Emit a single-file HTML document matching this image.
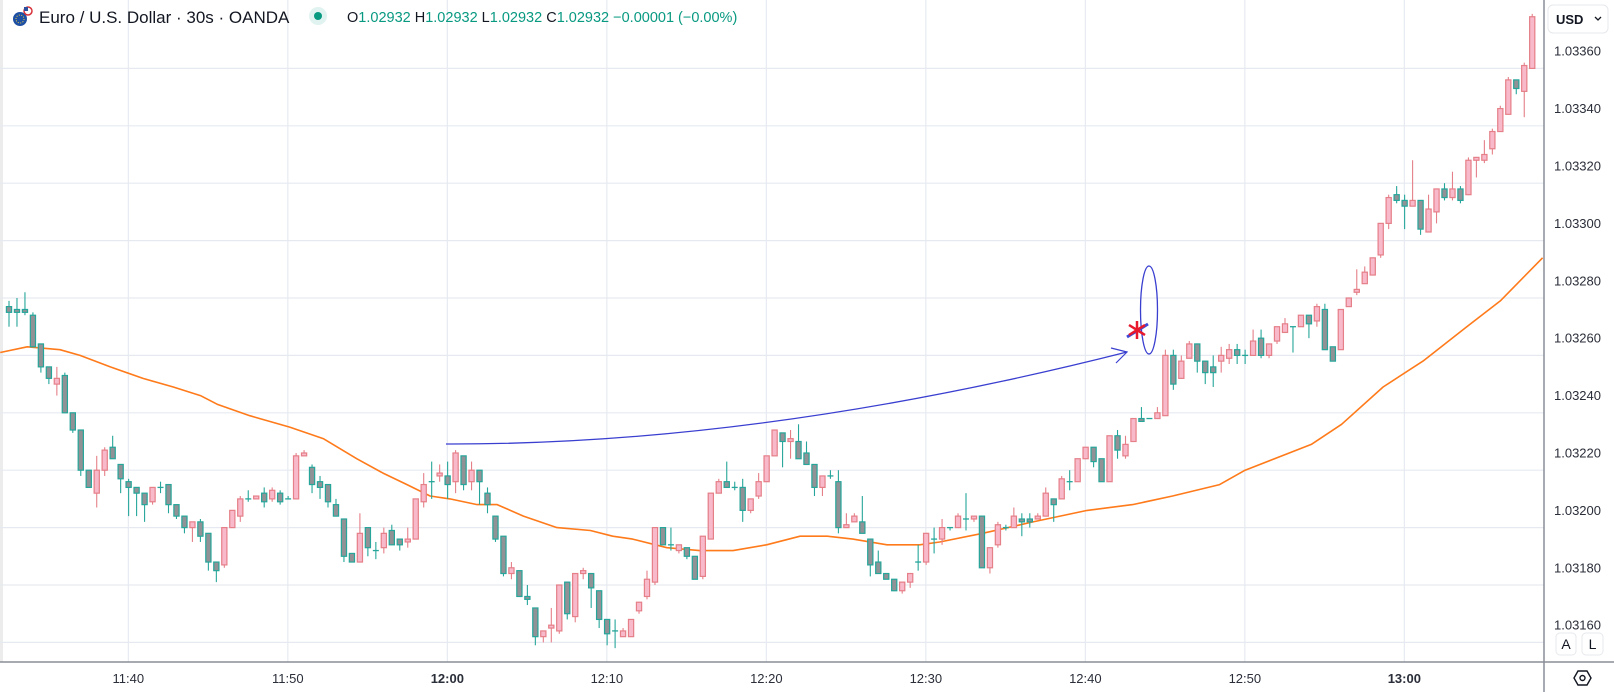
<!DOCTYPE html>
<html><head><meta charset="utf-8">
<style>
html,body{margin:0;padding:0;background:#fff;}
body{width:1614px;height:692px;position:relative;overflow:hidden;font-family:"Liberation Sans",sans-serif;color:#131722;}
svg{position:absolute;left:0;top:0;}
</style></head>
<body>
<svg id="chart" width="1614" height="692" viewBox="0 0 1614 692">
  <rect x="0" y="0" width="3" height="662" fill="#ececec"/>
  <g id="grid"></g>
  <g id="ema"></g>
  <g id="candles"></g>
  <g>
    <path d="M446 444 Q 760 445 1127 352" fill="none" stroke="#3a3fd0" stroke-width="1.3"/>
    <path d="M1111 348 L1127 352 L1116 363" fill="none" stroke="#3a3fd0" stroke-width="1.2"/>
    <ellipse cx="1149" cy="310" rx="8.5" ry="44" fill="none" stroke="#3a3fd0" stroke-width="1.3"/>
    <line x1="1127" y1="337" x2="1148" y2="324" stroke="#3f4bd6" stroke-width="3"/>
    <g stroke="#e8192c" stroke-width="2.5">
      <line x1="1137" y1="321" x2="1137" y2="339"/>
      <line x1="1129" y1="325" x2="1145" y2="335"/>
      <line x1="1129" y1="335" x2="1145" y2="325"/>
    </g>
  </g>
  <line x1="0" y1="662" x2="1614" y2="662" stroke="#8a8d95" stroke-width="1.5"/>
  <line x1="1544" y1="0" x2="1544" y2="692" stroke="#8a8d95" stroke-width="1.5"/>
  <g id="yaxis"></g>
  <g id="xaxis"></g>
  <g>
    <rect x="1548" y="5" width="60" height="28" rx="5" fill="#fff" stroke="#e6e8ec"/>
    <text x="1556" y="24" font-size="13" font-weight="bold" fill="#131722">USD</text>
    <path d="M1595 17 L1598 20 L1601 17" fill="none" stroke="#131722" stroke-width="1.3"/>
  </g>
  <g>
    <rect x="1556" y="633" width="20" height="22" rx="4" fill="#fff" stroke="#e6e8ec"/>
    <text x="1566" y="649" font-size="14" text-anchor="middle" fill="#131722">A</text>
  </g>
  <g>
    <rect x="1582" y="633" width="21" height="22" rx="4" fill="#fff" stroke="#e6e8ec"/>
    <text x="1592.5" y="649" font-size="14" text-anchor="middle" fill="#131722">L</text>
  </g>
  <g fill="none" stroke="#131722" stroke-width="1.4">
    <path d="M1574 678 L1578 671 L1587 671 L1591 678 L1587 685 L1578 685 Z"/>
    <circle cx="1582.5" cy="678" r="2.5"/>
  </g>
  <g>
    <g>
      <circle cx="20" cy="19" r="7" fill="#1d4fa3"/>
      <circle cx="20" cy="19" r="4" fill="none" stroke="#f4d03f" stroke-width="1" stroke-dasharray="1 1.5"/>
      <circle cx="28" cy="11" r="4" fill="#fff" stroke="#d8323a" stroke-width="1.5"/>
      <rect x="24" y="7" width="4" height="4" fill="#2c4f9e"/>
    </g>
    <text x="39" y="23" font-size="17" fill="#131722">Euro / U.S. Dollar · 30s · OANDA</text>
    <circle cx="318" cy="16" r="9" fill="#e1f3f0"/>
    <circle cx="318" cy="16" r="4" fill="#089981"/>
    <text x="347" y="22" font-size="14.5"><tspan fill="#131722">O</tspan><tspan fill="#089981">1.02932 </tspan><tspan fill="#131722">H</tspan><tspan fill="#089981">1.02932 </tspan><tspan fill="#131722">L</tspan><tspan fill="#089981">1.02932 </tspan><tspan fill="#131722">C</tspan><tspan fill="#089981">1.02932 −0.00001 (−0.00%)</tspan></text>
  </g>
</svg>
<script>
const open = [1.03277,1.03276,1.03276,1.03274,1.03264,1.03256,1.03250,1.03253,1.03240,1.03234,
1.03220,1.03212,1.03220,1.03228,1.03222,1.03216,1.03214,1.03212,1.03209,1.03214,
1.03215,1.03208,1.03204,1.03200,1.03202,1.03198,1.03188,1.03187,1.03200,1.03204,
1.03210,1.03210,1.03212,1.03210,1.03212,1.03210,1.03210,1.03225,1.03221,1.03216,
1.03215,1.03208,1.03203,1.03191,1.03188,1.03200,1.03192,1.03193,1.03199,1.03196,
1.03195,1.03196,1.03209,1.03216,1.03218,1.03218,1.03216,1.03225,1.03216,1.03220,
1.03212,1.03204,1.03197,1.03184,1.03185,1.03176,1.03172,1.03162,1.03165,1.03164,
1.03181,1.03169,1.03184,1.03184,1.03178,1.03168,1.03164,1.03162,1.03162,1.03171,
1.03176,1.03181,1.03200,1.03194,1.03192,1.03193,1.03190,1.03183,1.03196,1.03212,
1.03216,1.03214,1.03214,1.03206,1.03211,1.03216,1.03225,1.03233,1.03230,1.03230,
1.03226,1.03222,1.03214,1.03218,1.03216,1.03200,1.03202,1.03202,1.03196,1.03188,
1.03184,1.03182,1.03178,1.03181,1.03188,1.03188,1.03196,1.03196,1.03200,1.03200,
1.03203,1.03203,1.03204,1.03186,1.03194,1.03200,1.03200,1.03203,1.03203,1.03203,
1.03204,1.03210,1.03210,1.03216,1.03216,1.03224,1.03228,1.03224,1.03216,1.03232,
1.03225,1.03230,1.03238,1.03238,1.03238,1.03239,1.03260,1.03252,1.03259,1.03264,
1.03258,1.03256,1.03258,1.03259,1.03262,1.03260,1.03260,1.03266,1.03260,1.03265,
1.03268,1.03270,1.03270,1.03274,1.03272,1.03276,1.03263,1.03262,1.03277,1.03282,
1.03285,1.03288,1.03295,1.03306,1.03316,1.03314,1.03312,1.03314,1.03303,1.03310,
1.03318,1.03315,1.03318,1.03316,1.03328,1.03328,1.03332,1.03338,1.03344,1.03356,
1.03352,1.03360];
const close = [1.03275,1.03275,1.03275,1.03263,1.03256,1.03252,1.03252,1.03240,1.03234,1.03220,
1.03214,1.03220,1.03227,1.03224,1.03217,1.03214,1.03212,1.03208,1.03214,1.03214,
1.03208,1.03204,1.03200,1.03202,1.03197,1.03188,1.03185,1.03200,1.03206,1.03210,
1.03210,1.03211,1.03209,1.03213,1.03209,1.03210,1.03225,1.03226,1.03215,1.03214,
1.03209,1.03204,1.03190,1.03188,1.03198,1.03193,1.03192,1.03198,1.03194,1.03194,
1.03196,1.03210,1.03215,1.03216,1.03219,1.03215,1.03226,1.03215,1.03220,1.03216,
1.03208,1.03196,1.03184,1.03186,1.03176,1.03175,1.03162,1.03164,1.03166,1.03180,
1.03170,1.03184,1.03185,1.03179,1.03168,1.03163,1.03164,1.03164,1.03168,1.03174,
1.03182,1.03200,1.03194,1.03194,1.03194,1.03190,1.03182,1.03197,1.03212,1.03216,
1.03214,1.03214,1.03206,1.03210,1.03216,1.03225,1.03234,1.03230,1.03231,1.03224,
1.03222,1.03214,1.03218,1.03218,1.03200,1.03201,1.03204,1.03198,1.03187,1.03184,
1.03182,1.03178,1.03181,1.03184,1.03188,1.03198,1.03196,1.03200,1.03200,1.03204,
1.03203,1.03204,1.03186,1.03193,1.03201,1.03200,1.03204,1.03202,1.03202,1.03204,
1.03212,1.03208,1.03217,1.03216,1.03224,1.03228,1.03223,1.03216,1.03232,1.03227,
1.03229,1.03238,1.03237,1.03238,1.03240,1.03260,1.03250,1.03258,1.03264,1.03258,
1.03254,1.03254,1.03260,1.03262,1.03260,1.03260,1.03265,1.03260,1.03264,1.03270,
1.03271,1.03270,1.03274,1.03271,1.03277,1.03262,1.03258,1.03276,1.03280,1.03283,
1.03289,1.03294,1.03306,1.03315,1.03314,1.03312,1.03314,1.03304,1.03311,1.03318,
1.03315,1.03318,1.03314,1.03328,1.03329,1.03330,1.03338,1.03346,1.03356,1.03353,
1.03361,1.03378];
const high = [1.03279,1.03280,1.03282,1.03275,1.03264,1.03256,1.03256,1.03254,1.03240,1.03234,
1.03220,1.03225,1.03228,1.03232,1.03222,1.03217,1.03214,1.03212,1.03214,1.03216,
1.03215,1.03208,1.03204,1.03202,1.03203,1.03198,1.03188,1.03200,1.03206,1.03211,
1.03213,1.03211,1.03214,1.03214,1.03213,1.03211,1.03226,1.03227,1.03222,1.03218,
1.03215,1.03210,1.03203,1.03191,1.03205,1.03200,1.03195,1.03200,1.03201,1.03196,
1.03200,1.03210,1.03219,1.03223,1.03222,1.03223,1.03227,1.03225,1.03223,1.03220,
1.03214,1.03204,1.03197,1.03188,1.03185,1.03180,1.03172,1.03164,1.03172,1.03180,
1.03181,1.03184,1.03186,1.03184,1.03178,1.03168,1.03168,1.03165,1.03168,1.03174,
1.03185,1.03200,1.03200,1.03200,1.03194,1.03193,1.03190,1.03197,1.03212,1.03217,
1.03223,1.03216,1.03217,1.03210,1.03219,1.03225,1.03234,1.03233,1.03234,1.03236,
1.03230,1.03222,1.03218,1.03220,1.03220,1.03205,1.03205,1.03211,1.03196,1.03192,
1.03184,1.03182,1.03181,1.03184,1.03194,1.03198,1.03200,1.03203,1.03200,1.03205,
1.03212,1.03204,1.03204,1.03193,1.03202,1.03201,1.03207,1.03205,1.03205,1.03205,
1.03214,1.03210,1.03218,1.03220,1.03224,1.03228,1.03228,1.03224,1.03232,1.03234,
1.03232,1.03238,1.03242,1.03238,1.03242,1.03262,1.03262,1.03260,1.03265,1.03264,
1.03258,1.03260,1.03263,1.03264,1.03264,1.03262,1.03269,1.03269,1.03264,1.03270,
1.03273,1.03270,1.03274,1.03274,1.03278,1.03278,1.03263,1.03276,1.03280,1.03290,
1.03291,1.03294,1.03306,1.03316,1.03319,1.03316,1.03328,1.03314,1.03316,1.03318,
1.03320,1.03324,1.03319,1.03329,1.03329,1.03335,1.03339,1.03347,1.03357,1.03356,
1.03362,1.03379];
const low = [1.03270,1.03270,1.03274,1.03263,1.03254,1.03250,1.03246,1.03240,1.03233,1.03218,
1.03214,1.03207,1.03218,1.03224,1.03212,1.03204,1.03204,1.03202,1.03208,1.03212,
1.03205,1.03203,1.03198,1.03195,1.03195,1.03185,1.03181,1.03186,1.03200,1.03202,
1.03209,1.03210,1.03207,1.03209,1.03208,1.03210,1.03210,1.03225,1.03212,1.03210,
1.03207,1.03204,1.03188,1.03188,1.03188,1.03190,1.03189,1.03191,1.03194,1.03192,
1.03193,1.03196,1.03207,1.03210,1.03216,1.03210,1.03212,1.03213,1.03213,1.03208,
1.03205,1.03195,1.03183,1.03182,1.03176,1.03173,1.03159,1.03160,1.03160,1.03163,
1.03168,1.03167,1.03182,1.03172,1.03165,1.03159,1.03158,1.03162,1.03162,1.03170,
1.03175,1.03180,1.03194,1.03192,1.03191,1.03189,1.03182,1.03182,1.03196,1.03212,
1.03214,1.03213,1.03202,1.03205,1.03210,1.03216,1.03225,1.03221,1.03224,1.03224,
1.03222,1.03211,1.03211,1.03217,1.03198,1.03200,1.03202,1.03198,1.03183,1.03184,
1.03182,1.03178,1.03177,1.03179,1.03185,1.03187,1.03191,1.03194,1.03199,1.03200,
1.03199,1.03202,1.03186,1.03184,1.03193,1.03199,1.03200,1.03197,1.03200,1.03203,
1.03204,1.03202,1.03210,1.03213,1.03216,1.03224,1.03221,1.03216,1.03216,1.03224,
1.03224,1.03230,1.03237,1.03238,1.03238,1.03239,1.03248,1.03252,1.03259,1.03254,
1.03250,1.03249,1.03254,1.03257,1.03257,1.03257,1.03260,1.03259,1.03259,1.03264,
1.03268,1.03261,1.03270,1.03266,1.03270,1.03262,1.03258,1.03262,1.03277,1.03281,
1.03285,1.03288,1.03294,1.03304,1.03313,1.03304,1.03312,1.03302,1.03303,1.03306,
1.03314,1.03314,1.03313,1.03316,1.03322,1.03327,1.03330,1.03338,1.03344,1.03351,
1.03343,1.03360];
const emaIndex = [-1.1,2.3,6.4,8.9,12.7,16.8,20.6,24,26.1,30.2,35.2,39.4,43.6,46.9,49.9,52.8,55.3,58.7,61.2,64.5,68.7,72.9,75.7,78.2,82.5,86.6,90.8,95,99.2,102.6,105.8,110.1,114.2,116.7,122.1,128.4,135.2,140.9,145.9,151.8,155,163.3,167.1,172.3,177.3,182.8,187,192.3];
const emaValue = [1.03261,1.03263,1.03262,1.03260,1.03256,1.03252,1.03249,1.03246,1.03243,1.03239,1.03235,1.03231,1.03224,1.03219,1.03215,1.03211,1.03210,1.03208,1.03208,1.03204,1.03200,1.03199,1.03197,1.03196,1.03193,1.03192,1.03192,1.03194,1.03197,1.03197,1.03196,1.03194,1.03194,1.03195,1.03198,1.03202,1.03206,1.03208,1.03211,1.03215,1.03220,1.03229,1.03236,1.03249,1.03258,1.03270,1.03279,1.03294];
const priceTicks = [1.03360,1.03340,1.03320,1.03300,1.03280,1.03260,1.03240,1.03220,1.03200,1.03180,1.03160];
const timeTickIndex = [15,35,55,75,95,115,135,155,175];
const timeTickLabels = ["11:40","11:50","12:00","12:10","12:20","12:30","12:40","12:50","13:00"];
const timeTickBold = [false,false,true,false,false,false,false,false,true];

const NS = "http://www.w3.org/2000/svg";
const X0 = 9, STEP = 7.975, PLOT_R = 1544;
function xScale(i){ return X0 + STEP*i; }
function yScale(p){ return 68.4 + (1.03360 - p) * 287000; }
function mk(tag, attrs, parent){
  const e = document.createElementNS(NS, tag);
  for (const k in attrs) e.setAttribute(k, attrs[k]);
  parent.appendChild(e);
  return e;
}
const grid = document.getElementById('grid');
const yaxis = document.getElementById('yaxis');
const xaxis = document.getElementById('xaxis');
priceTicks.forEach(function(p){
  const y = yScale(p);
  const gl = mk('line', {x1:0, y1:y, x2:PLOT_R, y2:y, stroke:'#e6eaf0', 'stroke-width':1.2}, grid);
  
  
  const t = mk('text', {x:1554, y:y - 17.7 + 5, 'font-size':13, fill:'#2a2e39'}, yaxis);
  t.textContent = p.toFixed(5);
  
  
});
timeTickIndex.forEach(function(idx, k){
  const x = xScale(idx - 0.5) + 3.7;
  const gl = mk('line', {x1:x, y1:0, x2:x, y2:662, stroke:'#e6eaf0', 'stroke-width':1.2}, grid);
  
  
  const t = mk('text', {x:x, y:683, 'font-size':13, 'text-anchor':'middle', fill:'#2a2e39', 'font-weight': timeTickBold[k] ? 'bold' : 'normal'}, xaxis);
  t.textContent = timeTickLabels[k];
  
  
});
const emaG = document.getElementById('ema');
let d = '';
emaIndex.forEach(function(ix, k){
  d += (k ? ' L' : 'M') + xScale(ix).toFixed(1) + ' ' + yScale(emaValue[k]).toFixed(1);
});
const emaPath = mk('path', {d:d, fill:'none', stroke:'#ff7a1a', 'stroke-width':1.6, 'stroke-linejoin':'round'}, emaG);


const cg = document.getElementById('candles');
const n = Math.min(open.length, close.length, high.length, low.length);
for (let i = 0; i < n; i++){
  const up = close[i] > open[i];
  const x = xScale(i);
  const wick = up ? '#e57f88' : '#26a69a';
  const g = mk('g', {}, cg);
  
  
  mk('line', {x1:x, y1:yScale(high[i]), x2:x, y2:yScale(low[i]), stroke:wick, 'stroke-width':1.1}, g);
  const top = yScale(Math.max(open[i], close[i]));
  const bot = yScale(Math.min(open[i], close[i]));
  const h = Math.max(bot - top, 1.2);
  if (h <= 1.5) {
    mk('line', {x1:x-3, y1:top, x2:x+3, y2:top, stroke:wick, 'stroke-width':1.3}, g);
  } else {
    mk('rect', {x:x-2.6, y:top, width:5.2, height:h, fill: up ? '#f8bacb' : '#909296', stroke: wick, 'stroke-width':1.2}, g);
  }
}
</script>
</body></html>
